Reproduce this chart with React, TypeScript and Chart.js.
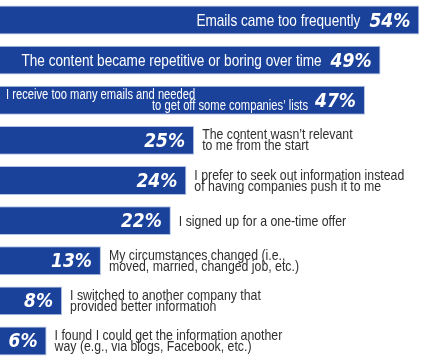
import React, { useEffect, useRef } from "react";
import { Chart, registerables } from "chart.js";

Chart.register(...registerables);

const categories: string[][] = [
  ["Emails came too frequently"],
  ["The content became repetitive or boring over time"],
  ["I receive too many emails and needed", "to get off some companies\u2019 lists"],
  ["The content wasn\u2019t relevant", "to me from the start"],
  ["I prefer to seek out information instead", "of having companies push it to me"],
  ["I signed up for a one-time offer"],
  ["My circumstances changed (i.e.,", "moved, married, changed job, etc.)"],
  ["I switched to another company that", "provided better information"],
  ["I found I could get the information another", "way (e.g., via blogs, Facebook, etc.)"],
];
const values: number[] = [54, 49, 47, 25, 24, 22, 13, 8, 6];
const percentLabels: string[] = values.map((v) => v + "%");

const BAR = "#1b429b";
const BORDER = "#b3c4e4";
const TEXT = "#2e2e2e";
const SANS = '"Liberation Sans", Arial, sans-serif';
const PCT_FONT = 'italic bold 19px "DejaVu Sans", sans-serif';

function drawText(ctx: any, text: string, x: number, y: number, align: string, sx: number) {
  ctx.save();
  ctx.translate(x, y);
  ctx.scale(sx, 1);
  ctx.textAlign = align;
  ctx.fillText(text, 0, 0);
  ctx.restore();
}

const labelPlugin = {
  id: "barLabels",
  afterDatasetsDraw(chart: any) {
    const ctx = chart.ctx;
    const meta = chart.getDatasetMeta(0);
    ctx.save();
    ctx.textBaseline = "alphabetic";
    meta.data.forEach((bar: any, i: number) => {
      const end = bar.x;
      const start = bar.base;
      const cy = bar.y;
      // percentage
      ctx.font = PCT_FONT;
      ctx.fillStyle = "#ffffff";
      const pctRight = end - 9;
      drawText(ctx, percentLabels[i], pctRight, cy + 6.5, "right", 0.9);
      const pctW = ctx.measureText(percentLabels[i]).width * 0.9;
      const lines = categories[i];
      const inside = values[i] >= 40;
      if (inside) {
        ctx.fillStyle = "#ffffff";
        const textRight = pctRight - pctW - 9;
        if (lines.length === 1) {
          ctx.font = "17px " + SANS;
          drawText(ctx, lines[0], textRight, cy + 6, "right", 0.8);
        } else {
          ctx.font = "14px " + SANS;
          drawText(ctx, lines[0], start + 6, cy - 1, "left", 0.8);
          drawText(ctx, lines[1], textRight + 2, cy + 9.5, "right", 0.8);
        }
      } else {
        ctx.fillStyle = TEXT;
        ctx.font = "15px " + SANS;
        const x = end + 8;
        if (lines.length === 1) {
          drawText(ctx, lines[0], x, cy + 5, "left", 0.82);
        } else {
          drawText(ctx, lines[0], x, cy - 1, "left", 0.82);
          drawText(ctx, lines[1], x, cy + 10, "left", 0.82);
        }
      }
    });
    ctx.restore();
  },
};

export default function App() {
  const ref = useRef<HTMLCanvasElement | null>(null);
  useEffect(() => {
    document.body.style.margin = "0";
    const chart = new Chart(ref.current!, {
      type: "bar",
      data: {
        labels: categories.map((c) => c.join(" ")),
        datasets: [
          {
            data: values,
            backgroundColor: BAR,
            borderColor: BORDER,
            borderWidth: 1,
            borderSkipped: "start",
            barPercentage: 0.72,
            categoryPercentage: 1,
          },
        ],
      },
      options: {
        indexAxis: "y",
        animation: false,
        responsive: false,
        layout: { padding: 0 },
        plugins: { legend: { display: false }, tooltip: { enabled: false } },
        scales: {
          x: { display: false, min: 0, max: 54.6 },
          y: { display: false },
        },
      },
      plugins: [labelPlugin],
    });
    return () => chart.destroy();
  }, []);
  return (
    <div style={{ position: "absolute", left: 0, top: 0, width: 424, height: 361, background: "#fff" }}>
      <canvas ref={ref} width={424} height={361} />
    </div>
  );
}
